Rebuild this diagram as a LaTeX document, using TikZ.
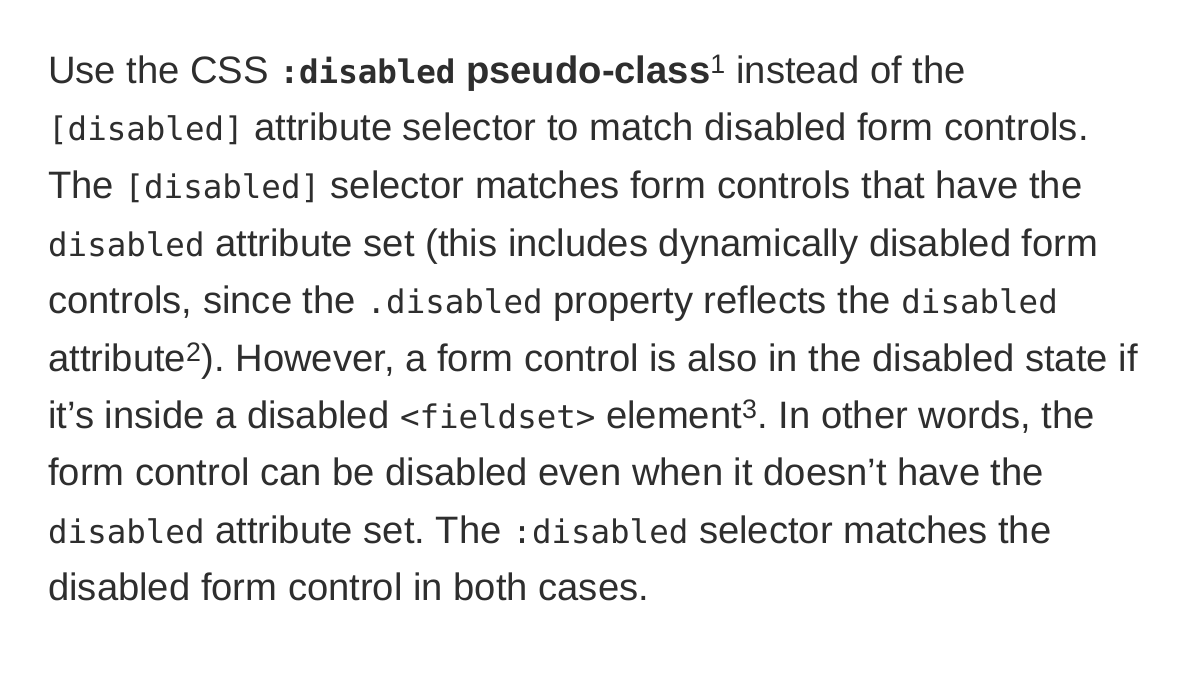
\documentclass[tikz,border=0pt]{standalone}
\usepackage{fontspec}
\setmainfont{Liberation Sans}
\setmonofont{DejaVu Sans Mono}[Scale=0.85]
\definecolor{txt}{HTML}{2E2E2E}
\begin{document}
\frenchspacing
\begin{tikzpicture}[x=1pt,y=1pt,
  ln/.style={anchor=base west,inner sep=0pt,font=\fontsize{38.2}{44}\selectfont,text=txt}]
\useasboundingbox (0,0) rectangle (1200,-675);
\fill[white] (0,0) rectangle (1200,-675);
\node[ln] (l1) at (48,-83) {Use the CSS \textbf{\texttt{:disabled} pseudo-class}\textsuperscript{1} instead of the};
\node[ln] (l2) at (48,-140) {\texttt{[disabled]} attribute selector to match disabled form controls.};
\node[ln] (l3) at (48,-198) {The \texttt{[disabled]} selector matches form controls that have the};
\node[ln] (l4) at (48,-256) {\texttt{disabled} attribute set (this includes dynamically disabled form};
\node[ln] (l5) at (48,-313) {controls, since the \texttt{.disabled} property reflects the \texttt{disabled}};
\node[ln] (l6) at (48,-371) {attribute\textsuperscript{2}). However, a form control is also in the disabled state if};
\node[ln] (l7) at (48,-428) {it’s inside a disabled \texttt{<fieldset>} element\textsuperscript{3}. In other words, the};
\node[ln] (l8) at (48,-485) {form control can be disabled even when it doesn’t have the};
\node[ln] (l9) at (48,-543) {\texttt{disabled} attribute set. The \texttt{:disabled} selector matches the};
\node[ln] (l10) at (48,-600) {disabled form control in both cases.};
\end{tikzpicture}
\end{document}
